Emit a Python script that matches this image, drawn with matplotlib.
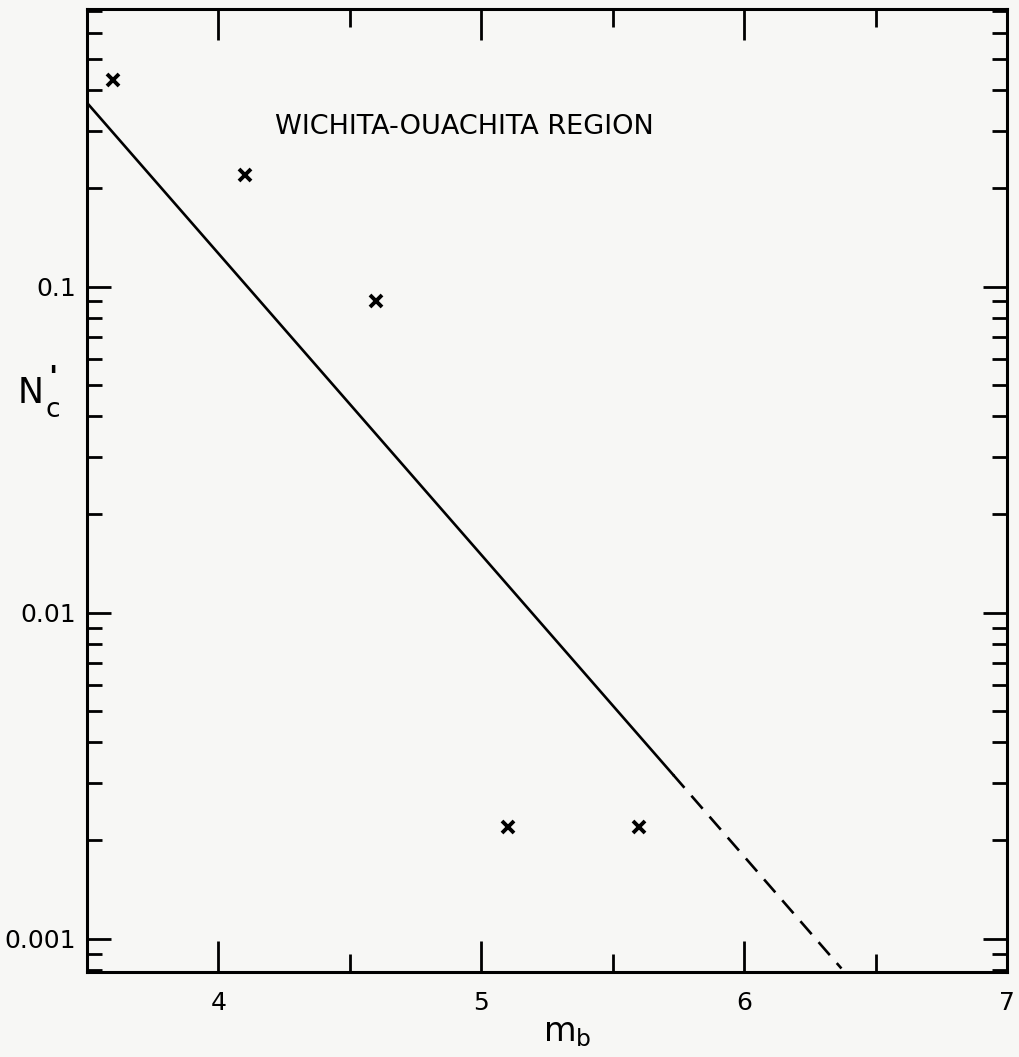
import matplotlib.pyplot as plt
import numpy as np

mb_obs = [3.6, 4.1, 4.6, 5.1, 5.6]
nc_obs = [0.43, 0.22, 0.09, 0.0022, 0.0022]

# Fitted line: solid part and dashed extrapolation (end points)
fit_mb = [3.5, 5.73]
fit_nc = [0.366, 0.00318]
ext_mb = [5.73, 6.37]
ext_nc = [0.00318, 0.00081]

x_major = [4, 5, 6, 7]
x_minor = [4.5, 5.5, 6.5]
y_major = [0.001, 0.01, 0.1]
y_labels = ['0.001', '0.01', '0.1']

plt.rcParams['font.family'] = ['DejaVu Sans']

fig = plt.figure(figsize=(10.2, 10.57), dpi=100)
fig.patch.set_facecolor('#f7f7f5')
ax = fig.add_axes([0.0853, 0.0804, 0.9020, 0.9111])
ax.set_facecolor('#f7f7f5')

ax.plot(fit_mb, fit_nc, color='black', lw=1.9)
ax.plot(ext_mb, ext_nc, color='black', lw=1.9, ls=(0, (6.5, 4)))
ax.plot(mb_obs, nc_obs, 'x', color='black', ms=8.5, mew=2.8)

ax.set_yscale('log')
ax.set_xlim(3.5, 7)
ax.set_ylim(0.00079, 0.71)

ax.set_xticks(x_major)
ax.set_xticks(x_minor, minor=True)
ax.set_yticks(y_major)
ax.set_yticklabels(y_labels)
ax.yaxis.set_minor_locator(plt.matplotlib.ticker.LogLocator(base=10, subs=np.arange(2, 10)))
ax.yaxis.set_minor_formatter(plt.NullFormatter())

ax.tick_params(axis='both', which='both', direction='in', right=True, top=True,
               colors='black', width=2)
ax.tick_params(axis='y', which='major', length=17, labelsize=18, pad=8)
ax.tick_params(axis='y', which='minor', length=11)
ax.tick_params(axis='x', which='major', length=22, labelsize=18, pad=14)
ax.tick_params(axis='x', which='minor', length=13)

for s in ax.spines.values():
    s.set_linewidth(2.2)

ax.set_xlabel(r'$\mathregular{m_b}$', fontsize=24)
ax.xaxis.set_label_coords(0.522, -0.046)

# y label N'c drawn in pieces so the prime is a visible stroke
fig.text(0.017, 0.628, 'N', fontsize=25, ha='left', va='center')
fig.text(0.047, 0.642, "'", fontsize=22, fontweight='bold', ha='left', va='center')
fig.text(0.045, 0.612, 'c', fontsize=19, ha='left', va='center')

ax.text(0.204, 0.877, 'WICHITA-OUACHITA REGION', transform=ax.transAxes,
        fontsize=19.5, ha='left', va='center')

plt.savefig('out.png', dpi=100, facecolor=fig.get_facecolor())
